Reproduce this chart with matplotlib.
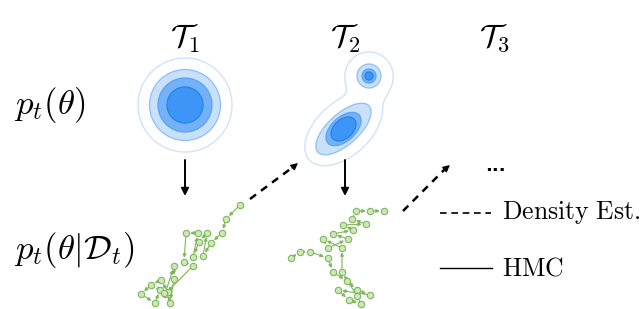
import numpy as np
import matplotlib
matplotlib.use('Agg')
import matplotlib.pyplot as plt
from matplotlib.patches import Circle, Ellipse

plt.rcParams['mathtext.fontset'] = 'cm'

# column titles
tasks = [r'$\mathcal{T}_1$', r'$\mathcal{T}_2$', r'$\mathcal{T}_3$']
task_x = [185, 345, 495]

# T1 density: concentric contours (radius in px)
t1_center = (185, 105)
t1_radii = [47, 35.5, 27, 18]

# T2 density: two components
t2_small_center = (369, 76)
t2_small_radii = [12, 7, 4]
t2_big_center = (343.5, 129)
t2_big_sizes = [(69, 31), (42, 24), (29, 19)]   # (major, minor) full lengths
t2_big_angle = 42
# outline of the mixture (for the faint outer contour)
mix_means = [(343.5, 129), (369, 76)]
mix_sigmas = [(21.5, 12.5), (11.2, 11.2)]
mix_angles = [42, 0]
mix_level = 0.1

# HMC trajectories (pixel coords)
traj1 = [(240, 205), (226, 219), (222, 233), (211, 243), (203, 256), (207, 233),
         (199, 242), (193, 257), (198, 233), (186, 233), (184, 262), (193, 266),
         (165, 294), (174, 266), (174, 279), (170, 303), (168, 292), (161, 280),
         (151, 285), (141, 294), (155, 303), (160, 290), (164, 293)]
traj2 = [(291, 258), (300, 252), (310, 252), (328, 258), (333, 272), (347, 281),
         (357, 290), (370, 295), (338, 290), (349, 300), (361, 304), (357, 296),
         (342, 272), (342, 248), (323, 239), (328, 248), (348, 239), (333, 234),
         (353, 230), (343, 225), (366, 224), (352, 219), (356, 211), (370, 211),
         (384, 211)]

legend_labels = [r'$\mathrm{Density\ Est.}$', r'$\mathrm{HMC}$']

fills = ['#c9e0fb', '#75b1f6', '#3f95f6']
edges = ['#8ec0f7', '#5aa2f3', '#2283ee']
outer_edge = '#cfe3fb'
green_line = '#7db85a'
green_face = '#cfe6b9'

fig = plt.figure(figsize=(6.41, 3.09), dpi=100)
ax = fig.add_axes([0, 0, 1, 1])
ax.set_xlim(0, 641)
ax.set_ylim(309, 0)
ax.axis('off')

for lbl, x in zip(tasks, task_x):
    ax.text(x, 38, lbl, fontsize=23, ha='center', va='center')

ax.text(14, 105, r'$p_t(\theta)$', fontsize=25, ha='left', va='center')
ax.text(14, 250, r'$p_t(\theta|\mathcal{D}_t)$', fontsize=25, ha='left', va='center')

# T1 contours
ax.add_patch(Circle(t1_center, t1_radii[0], fill=False, ec=outer_edge, lw=1))
for r, fc, ec in zip(t1_radii[1:], fills, edges):
    ax.add_patch(Circle(t1_center, r, fc=fc, ec=ec, lw=0.9))

# T2 outer merged contour
gx, gy = np.meshgrid(np.linspace(280, 420, 300), np.linspace(30, 185, 300))
Z = np.zeros_like(gx)
for (mx, my), (sa, sb), ang in zip(mix_means, mix_sigmas, mix_angles):
    a = np.deg2rad(ang)
    dx, dy = gx - mx, gy - my
    du = dx * np.cos(a) - dy * np.sin(a)
    dv = dx * np.sin(a) + dy * np.cos(a)
    Z += np.exp(-0.5 * ((du / sa) ** 2 + (dv / sb) ** 2))
ax.contour(gx, gy, Z, levels=[mix_level], colors=[outer_edge], linewidths=1)

for (w, h), fc, ec in zip(t2_big_sizes, fills, edges):
    ax.add_patch(Ellipse(t2_big_center, w, h, angle=-t2_big_angle, fc=fc, ec=ec, lw=0.9))
for r, fc, ec in zip(t2_small_radii, fills, edges):
    ax.add_patch(Circle(t2_small_center, r, fc=fc, ec=ec, lw=0.9))

# vertical arrows (density -> samples)
for x in task_x[:2]:
    ax.annotate('', xy=(x, 196), xytext=(x, 160),
                arrowprops=dict(arrowstyle='-|>', color='k', lw=1.4,
                                mutation_scale=11, shrinkA=0, shrinkB=0))

# dashed arrows (samples -> next density)
for (x0, y0), (x1, y1) in [((250, 199), (298, 163)), ((403, 211), (450, 165))]:
    ax.plot([x0, x1 - 5], [y0, y1 + 4], color='k', lw=1.8, ls=(0, (3, 2.5)))
    ax.annotate('', xy=(x1, y1), xytext=(x1 - 6, y1 + 5),
                arrowprops=dict(arrowstyle='-|>', color='k', lw=1,
                                mutation_scale=10, shrinkA=0, shrinkB=0))

ax.text(495, 166, '...', fontsize=13, fontweight='bold', ha='center', va='center')

# HMC trajectories
for traj in (traj1, traj2):
    for p, q in zip(traj[:-1], traj[1:]):
        ax.annotate('', xy=q, xytext=p,
                    arrowprops=dict(arrowstyle='-|>', color=green_line, lw=0.8,
                                    mutation_scale=5, shrinkA=0, shrinkB=3))
    xs, ys = zip(*traj)
    ax.plot(xs, ys, ls='none', marker='o', ms=4.6, mfc=green_face,
            mec=green_line, mew=0.8, zorder=3)

# legend
ax.plot([440, 491], [213, 213], color='k', lw=1.2, ls=(0, (4, 2.8)))
ax.plot([440, 492], [268, 268], color='k', lw=1)
ax.text(502, 213, legend_labels[0], fontsize=18.5, ha='left', va='center')
ax.text(502, 268, legend_labels[1], fontsize=18.5, ha='left', va='center')

fig.savefig('out.png', dpi=100)
